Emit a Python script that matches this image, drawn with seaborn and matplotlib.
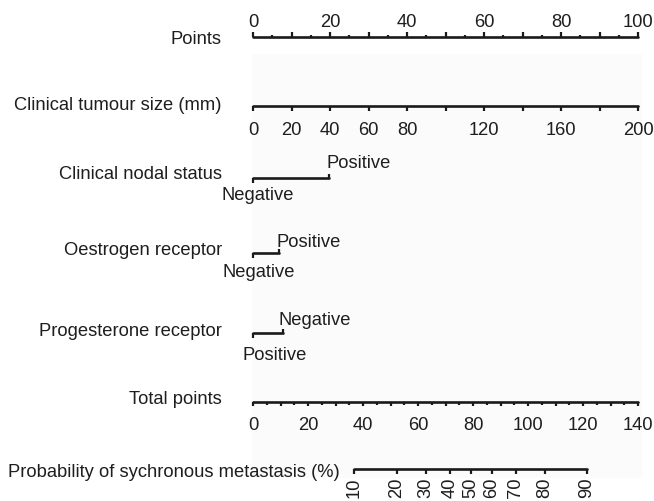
import numpy as np
import matplotlib
matplotlib.use("Agg")
import matplotlib.pyplot as plt
import seaborn as sns
import pandas as pd

# ---------------- data ----------------
points_ticks = list(range(0, 101, 5))
points_labels = [0, 20, 40, 60, 80, 100]

tumour_ticks_mm = list(range(0, 201, 20))
tumour_labels_mm = [0, 20, 40, 60, 80, 120, 160, 200]
tumour_max_mm = 200
tumour_max_points = 100

nodal_levels = ["Negative", "Positive"]
nodal_points = [0, 19.7]

oestrogen_levels = ["Negative", "Positive"]
oestrogen_points = [0, 6.8]

progesterone_levels = ["Positive", "Negative"]
progesterone_points = [0, 7.8]

total_ticks = list(range(0, 141, 5))
total_labels = [0, 20, 40, 60, 80, 100, 120, 140]
total_max = 140

prob_values = [10, 20, 30, 40, 50, 60, 70, 80, 90]
prob_total_points = [36.7, 52.4, 62.9, 71.6, 79.3, 86.9, 95.6, 106.2, 121.5]

row_names = ["Points", "Clinical tumour size (mm)", "Clinical nodal status",
             "Oestrogen receptor", "Progesterone receptor", "Total points",
             "Probability of sychronous metastasis (%)"]

# ---------------- layout ----------------
W, H = 654, 502
X0, X100 = 253.0, 638.0
scale = (X100 - X0) / 100.0


def px2x(px):
    return (px - X0) / scale


sns.set_style("white")
plt.rcParams['font.family'] = ['Liberation Sans', 'DejaVu Sans']
FS = 13.2
TXT = "#1e1e1e"
LC = "#1a1a1a"
LW = 1.9

fig = plt.figure(figsize=(W / 100, H / 100), dpi=100)
ax = fig.add_axes([0, 0, 1, 1])
ax.set_xlim(px2x(0), px2x(W))
ax.set_ylim(H, 0)
ax.axis("off")

# faint panel background
ax.add_patch(plt.Rectangle((px2x(252), 55), px2x(642) - px2x(252), 424,
                           facecolor="#fbfbfb", edgecolor="none", zorder=0))

row_y = {"Points": 38, "Tumour": 107, "Nodal": 179, "Oest": 254,
         "Prog": 334, "Total": 403, "Prob": 470}
label_base = [44, 110, 179, 255, 336, 404, 477]


def hline(x_vals, y):
    df = pd.DataFrame({"x": x_vals, "y": [y] * len(x_vals)})
    sns.lineplot(data=df, x="x", y="y", ax=ax, color=LC, lw=LW,
                 estimator=None, sort=True, legend=False)


def ticks(xs, y, length):
    ax.vlines(xs, y, y + length, color=LC, lw=1.6)


# Points
hline([points_ticks[0], points_ticks[-1]], row_y["Points"])
major = [t for t in points_ticks if t % 10 == 0]
minor = [t for t in points_ticks if t % 10 != 0]
ticks(major, row_y["Points"], -5)
ticks(minor, row_y["Points"], -2.5)
for v in points_labels:
    ax.text(v, 27, str(v), ha="center", va="baseline", fontsize=FS, color=TXT)

# Tumour size
tum_x = [m * tumour_max_points / tumour_max_mm for m in tumour_ticks_mm]
hline([tum_x[0], tum_x[-1]], row_y["Tumour"])
ticks(tum_x, row_y["Tumour"], 5)
for m in tumour_labels_mm:
    ax.text(m * tumour_max_points / tumour_max_mm, 135, str(m), ha="center",
            va="baseline", fontsize=FS, color=TXT)


# Categorical rows
def cat_row(pts, levels, y, lab_pos):
    hline(pts, y)
    ticks([pts[0]], y, 4.5)
    ticks([pts[1]], y, -4.5)
    for lev, (px, yb, ha) in zip(levels, lab_pos):
        ax.text(px2x(px), yb, lev, ha=ha, va="baseline", fontsize=FS, color=TXT)


cat_row(nodal_points, nodal_levels, row_y["Nodal"],
        [(258, 200, "center"), (327, 168, "left")])
cat_row(oestrogen_points, oestrogen_levels, row_y["Oest"],
        [(259, 277, "center"), (277, 247, "left")])
cat_row(progesterone_points, progesterone_levels, row_y["Prog"],
        [(275, 360, "center"), (278, 325, "left")])

# Total points
tot_x = [t * 100 / total_max for t in total_ticks]
hline([tot_x[0], tot_x[-1]], row_y["Total"])
tmaj = [t * 100 / total_max for t in total_ticks if t % 10 == 0]
tmin = [t * 100 / total_max for t in total_ticks if t % 10 != 0]
ticks(tmaj, row_y["Total"], 4)
ticks(tmin, row_y["Total"], 2.5)
for v in total_labels:
    ax.text(v * 100 / total_max, 430, str(v), ha="center", va="baseline",
            fontsize=FS, color=TXT)

# Probability
pr_x = [t * 100 / total_max for t in prob_total_points]
hline([pr_x[0], pr_x[-1]], row_y["Prob"])
ticks(pr_x, row_y["Prob"], 5)
for v, x in zip(prob_values, pr_x):
    ax.text(x, 478, str(v), ha="center", va="top", rotation=90,
            fontsize=FS, color=TXT)

# Row labels
for i, (name, yb) in enumerate(zip(row_names, label_base)):
    xr = 340 if i == 6 else 222
    ax.text(px2x(xr), yb, name, ha="right", va="baseline", fontsize=FS, color=TXT)

fig.savefig("out.png", dpi=100)
